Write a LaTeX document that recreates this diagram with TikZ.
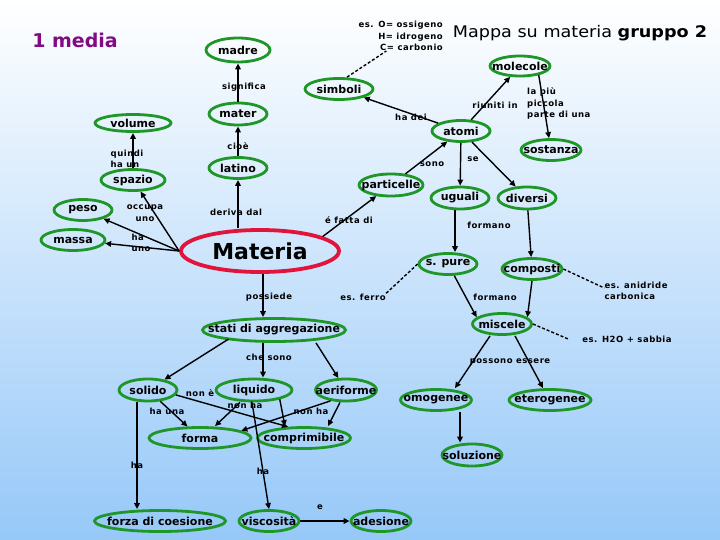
\documentclass[tikz,border=0pt]{standalone}
\usepackage{fontspec}
\usetikzlibrary{shapes.geometric,arrows.meta}
\newfontfamily\nodefont{DejaVu Sans Bold}
\newfontfamily\lblfont[LetterSpace=6]{DejaVu Sans Bold}
\newfontfamily\titlefont{DejaVu Sans}
\definecolor{cgreen}{RGB}{30,150,40}
\definecolor{cred}{RGB}{225,20,60}
\definecolor{cpurple}{RGB}{130,10,130}
\definecolor{bgmid}{RGB}{210,228,250}
\definecolor{bgbot}{RGB}{150,200,248}
\newcommand\ntx[1]{\makebox[0pt]{#1}}
\tikzset{
  concept/.style={ellipse, draw=cgreen, line width=2.8pt, inner sep=0pt,
    font={\nodefont\fontsize{11}{13}\selectfont}},
  sz/.style 2 args={minimum width=#1pt, minimum height=#2pt},
  lbl/.style={font={\lblfont\fontsize{8.5}{11.5}\selectfont}, inner sep=0pt, align=center},
  arr/.style={line width=1.4pt, -{Triangle[length=6pt,width=5.5pt]}},
  dlink/.style={line width=1.4pt, dash pattern=on 3pt off 2pt},
}
\begin{document}
\begin{tikzpicture}[x=1pt,y=-1pt]
\useasboundingbox (0,0) rectangle (720,540);
\fill[top color=white, middle color=bgmid, bottom color=bgbot] (0,0) rectangle (720,540);

% titles
\node[font={\nodefont\fontsize{19}{22}\selectfont}, text=cpurple] (media) at (75,40) {1 media};
\node[inner sep=0pt] (title) at (580,33) {\scalebox{1.1}[1]{\titlefont\fontsize{16}{19}\selectfont Mappa su materia \textbf{gruppo 2}}};
\node[lbl, align=right, anchor=north east] (esO) at (443,21) {es. O= ossigeno\\H= idrogeno\\C= carbonio};

% concepts
\node[concept, sz={64}{24}] (madre) at (238,50) {\ntx{madre}};
\node[concept, sz={58}{22}] (mater) at (238,114) {\ntx{mater}};
\node[concept, sz={68}{21}] (simboli) at (339,89) {\ntx{simboli}};
\node[concept, sz={60}{20}] (molecole) at (520,66) {\ntx{molecole}};
\node[concept, sz={58}{21}] (atomi) at (461,131) {\ntx{atomi}};
\node[concept, sz={60}{21}] (sostanza) at (551,150) {\ntx{sostanza}};
\node[concept, sz={76}{17}] (volume) at (133,123) {\ntx{volume}};
\node[concept, sz={64}{21}] (spazio) at (133,180) {\ntx{spazio}};
\node[concept, sz={58}{21}] (latino) at (238,168) {\ntx{latino}};
\node[concept, sz={58}{21}] (peso) at (83,210) {\ntx{peso}};
\node[concept, sz={64}{21}] (massa) at (73,240) {\ntx{massa}};
\node[ellipse, draw=cred, line width=3.8pt, inner sep=0pt, sz={158}{42},
  font={\nodefont\fontsize{22}{26}\selectfont}] (Materia) at (260,251) {\ntx{Materia}};
\node[concept, sz={64}{22}] (particelle) at (391,185) {\ntx{particelle}};
\node[concept, sz={58}{22}] (uguali) at (460,198) {\ntx{uguali}};
\node[concept, sz={58}{22}] (diversi) at (527,198) {\ntx{diversi}};
\node[concept, sz={58}{21}] (spure) at (448,264) {\ntx{s. pure}};
\node[concept, sz={60}{21}] (composti) at (532,269) {\ntx{composti}};
\node[concept, sz={59}{21}] (miscele) at (502,324) {\ntx{miscele}};
\node[concept, sz={143}{23}] (stati) at (274,330) {\ntx{stati di aggregazione}};
\node[concept, sz={58}{22}] (solido) at (148,390) {\ntx{solido}};
\node[concept, sz={76}{22}] (liquido) at (254,390) {\ntx{liquido}};
\node[concept, sz={61}{22}] (aeriforme) at (346,390) {\ntx{aeriforme}};
\node[concept, sz={102}{21}] (forma) at (200,438) {\ntx{forma}};
\node[concept, sz={93}{21}] (comprimibile) at (304,438) {\ntx{comprimibile}};
\node[concept, sz={71}{21}] (omogenee) at (436,400) {\ntx{omogenee}};
\node[concept, sz={82}{21}] (eterogenee) at (550,400) {\ntx{eterogenee}};
\node[concept, sz={60}{22}] (soluzione) at (472,455) {\ntx{soluzione}};
\node[concept, sz={131}{21}] (forza) at (160,521) {\ntx{forza di coesione}};
\node[concept, sz={60}{21}] (viscosita) at (269,521) {\ntx{viscosità}};
\node[concept, sz={60}{21}] (adesione) at (381,521) {\ntx{adesione}};

% example texts
\node[lbl] (esferro) at (363,297) {es. ferro};
\node[lbl, align=left] (esan) at (636,291) {es. anidride\\carbonica};
\node[lbl] (esh) at (627,339) {es. H2O + sabbia};

% link labels
\node[lbl] (l-significa) at (244,87) {significa};
\node[lbl] (l-cioe) at (238,146) {cioè};
\node[lbl] (l-deriva) at (236,212) {deriva dal};
\node[lbl, align=left] (l-quindi) at (127,159) {quindi\\ha un};
\node[lbl] (l-occupa) at (145,213) {occupa\\uno};
\node[lbl, align=left] (l-hauno) at (141,243) {ha\\uno};
\node[lbl] (l-fatta) at (349,220) {é fatta di};
\node[lbl] (l-sono) at (432,164) {sono};
\node[lbl] (l-hadei) at (411,117) {ha dei};
\node[lbl] (l-riuniti) at (495,105) {riuniti in};
\node[lbl, align=left, anchor=north west] (l-lapiu) at (527,88) {la più\\piccola\\parte di una};
\node[lbl] (l-se) at (473,159) {se};
\node[lbl] (l-formano1) at (489,225) {formano};
\node[lbl] (l-formano2) at (495,297) {formano};
\node[lbl] (l-possiede) at (269,297) {possiede};
\node[lbl] (l-chesono) at (269,357) {che sono};
\node[lbl] (l-possono) at (510,362) {possono essere};
\node[lbl] (l-none) at (200,393) {non è};
\node[lbl] (l-hauna) at (167,411) {ha una};
\node[lbl] (l-nonha1) at (245,405) {non ha};
\node[lbl] (l-nonha2) at (311,411) {non ha};
\node[lbl] (l-ha1) at (137,465) {ha};
\node[lbl] (l-ha2) at (263,471) {ha};
\node[lbl] (l-e) at (320,507) {e};

% connectors
\draw[arr] (mater) -- (madre);
\draw[arr] (latino) -- (mater);
\draw[arr] (latino |- Materia.north) -- (latino);
\draw[arr] (spazio) -- (volume);
\draw[arr] (Materia.west) -- (spazio);
\draw[arr] (Materia.west) -- (peso);
\draw[arr] (Materia.west) -- (massa);
\draw[arr] (Materia.13) -- (particelle);
\draw[arr] (particelle) -- (atomi);
\draw[arr] (atomi) -- (simboli);
\draw[arr] (atomi) -- (molecole);
\draw[arr] (molecole.-26) -- (sostanza);
\draw[arr] (atomi) -- (uguali);
\draw[arr] (atomi) -- (diversi);
\draw[arr] ([xshift=-5pt]uguali.south) -- ([xshift=7pt]spure.north);
\draw[arr] (diversi) -- (composti);
\draw[arr] (spure) -- (miscele.165);
\draw[arr] (composti.south) -- (miscele.15);
\draw[arr] ([xshift=3pt]Materia.south) -- ([xshift=-11pt]stati.north);
\draw[arr] ([xshift=6pt]stati.south west) -- (solido);
\draw[arr] ([xshift=-11pt]stati.south) -- ([xshift=9pt]liquido.north);
\draw[arr] ([xshift=42pt]stati.south) -- (aeriforme);
\draw[arr] ([xshift=-12pt]miscele.south) -- ([xshift=19pt]omogenee.north);
\draw[arr] ([xshift=13pt]miscele.south) -- ([xshift=-7pt]eterogenee.north);
\draw[arr] ([xshift=24pt]omogenee.south) -- ([xshift=-12pt]soluzione.north);
\draw[arr] (solido) -- (forma);
\draw[arr] (solido.-10) -- (comprimibile.145);
\draw[arr] ([xshift=-14pt]liquido.south) -- ([xshift=15pt]forma.north);
\draw[arr] (liquido.-20) -- ([xshift=-19pt]comprimibile.north);
\draw[arr] (aeriforme.215) -- (forma.10);
\draw[arr] ([xshift=-6pt]aeriforme.south) -- ([xshift=24pt]comprimibile.north);
\draw[arr] ([xshift=-11pt]solido.south) -- ([xshift=-23pt]forza.north);
\draw[arr] ([xshift=-2pt]liquido.south) -- (viscosita.north);
\draw[arr] (viscosita) -- (adesione);

% dashed example links
\draw[dlink] ([xshift=8pt]simboli.north) -- ([xshift=28pt]esO.south west);
\draw[dlink] (spure.west) -- (esferro.north east);
\draw[dlink] (composti.east) -- ([yshift=3pt]esan.west);
\draw[dlink] (miscele.east) -- ([xshift=-14pt]esh.west);
\end{tikzpicture}
\end{document}
